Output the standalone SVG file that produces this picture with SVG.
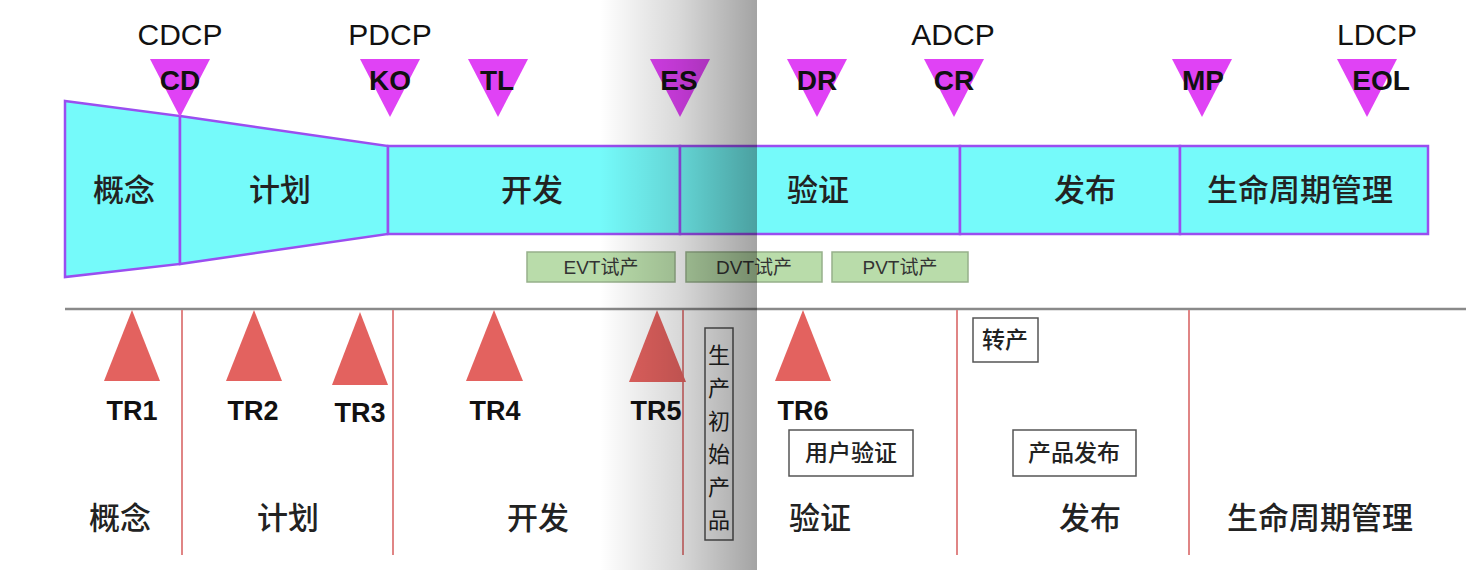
<svg xmlns="http://www.w3.org/2000/svg" width="1480" height="570" viewBox="0 0 1480 570">
<style>
.lat{font-family:"Liberation Sans",Arial,sans-serif;fill:#111}
.cjk{font-family:"Noto Sans CJK SC","Noto Sans",sans-serif;fill:#222}
.dcp{font-size:30px;text-anchor:middle}
.ms{font-size:28px;font-weight:bold;text-anchor:middle}
.tr{font-size:27px;font-weight:bold;text-anchor:middle}
.ph{font-size:31px;font-weight:500;text-anchor:middle}
.seg{fill:#75fafa;stroke:#9a4ef0;stroke-width:2.5}
.mt{fill:#e042f5}
.rt{fill:#e3625f}
.gb{fill:#b9dcaa;stroke:#96b08a;stroke-width:1.5}
.gt{font-size:19px;text-anchor:middle;fill:#333}
.wb{fill:#fff;stroke:#555;stroke-width:1.5}
.bt{font-size:23px;font-weight:500;text-anchor:middle}
.rl{stroke:#e08585;stroke-width:2}
</style>
<defs>
<linearGradient id="shade" x1="0" y1="0" x2="1" y2="0">
<stop offset="0" stop-color="#000" stop-opacity="0"/>
<stop offset="0.5" stop-color="#000" stop-opacity="0.15"/>
<stop offset="1" stop-color="#000" stop-opacity="0.36"/>
</linearGradient>
</defs>
<rect width="1480" height="570" fill="#fff"/>

<g id="connectors">
<line x1="65" y1="309" x2="1466" y2="309" stroke="#8a8a8a" stroke-width="2.5"/>
<line class="rl" x1="182" y1="310" x2="182" y2="555"/>
<line class="rl" x1="393" y1="310" x2="393" y2="555"/>
<line class="rl" x1="683" y1="310" x2="683" y2="555"/>
<line class="rl" x1="957" y1="310" x2="957" y2="555"/>
<line class="rl" x1="1189" y1="310" x2="1189" y2="555"/>
</g>

<g id="phase-bar">
<g id="bar-concept"><polygon class="seg" points="65,101 180,116 180,264 65,277"/><text class="cjk ph" x="124" y="201">概念</text></g>
<g id="bar-plan"><polygon class="seg" points="180,116 388,146 388,234 180,264"/><text class="cjk ph" x="280" y="201">计划</text></g>
<g id="bar-dev"><rect class="seg" x="388" y="146" width="292" height="88"/><text class="cjk ph" x="532" y="201">开发</text></g>
<g id="bar-verify"><rect class="seg" x="680" y="146" width="280" height="88"/><text class="cjk ph" x="818" y="201">验证</text></g>
<g id="bar-release"><rect class="seg" x="960" y="146" width="220" height="88"/><text class="cjk ph" x="1085" y="201">发布</text></g>
<g id="bar-lcm"><rect class="seg" x="1180" y="146" width="248" height="88"/><text class="cjk ph" x="1300" y="201">生命周期管理</text></g>
</g>

<g id="dcp-labels">
<text class="lat dcp" x="180" y="45">CDCP</text>
<text class="lat dcp" x="390" y="45">PDCP</text>
<text class="lat dcp" x="953" y="45">ADCP</text>
<text class="lat dcp" x="1377" y="45">LDCP</text>
</g>

<g id="ms-CD"><polygon class="mt" points="150,59 210,59 180,117"/><text class="lat ms" x="180" y="90">CD</text></g>
<g id="ms-KO"><polygon class="mt" points="360,59 420,59 390,117"/><text class="lat ms" x="390" y="90">KO</text></g>
<g id="ms-TL"><polygon class="mt" points="468,59 528,59 498,117"/><text class="lat ms" x="497" y="90">TL</text></g>
<g id="ms-ES"><polygon class="mt" points="650,59 710,59 680,117"/><text class="lat ms" x="679" y="90">ES</text></g>
<g id="ms-DR"><polygon class="mt" points="787,59 847,59 817,117"/><text class="lat ms" x="817" y="90">DR</text></g>
<g id="ms-CR"><polygon class="mt" points="924,59 984,59 954,117"/><text class="lat ms" x="954" y="90">CR</text></g>
<g id="ms-MP"><polygon class="mt" points="1172,59 1232,59 1202,117"/><text class="lat ms" x="1203" y="90">MP</text></g>
<g id="ms-EOL"><polygon class="mt" points="1337,59 1397,59 1367,117"/><text class="lat ms" x="1381" y="90">EOL</text></g>

<g id="evt"><rect class="gb" x="527" y="252" width="148" height="30"/><text class="lat gt" x="601" y="274">EVT<tspan class="cjk" style="fill:#333">试产</tspan></text></g>
<g id="dvt"><rect class="gb" x="686" y="252" width="136" height="30"/><text class="lat gt" x="754" y="274">DVT<tspan class="cjk" style="fill:#333">试产</tspan></text></g>
<g id="pvt"><rect class="gb" x="832" y="252" width="136" height="30"/><text class="lat gt" x="900" y="274">PVT<tspan class="cjk" style="fill:#333">试产</tspan></text></g>

<g id="tr1"><polygon class="rt" points="132,310 160,381 104,381"/><text class="lat tr" x="132" y="420">TR1</text></g>
<g id="tr2"><polygon class="rt" points="254,310 282,381 226,381"/><text class="lat tr" x="253" y="420">TR2</text></g>
<g id="tr3"><polygon class="rt" points="360,312 388,385 332,385"/><text class="lat tr" x="360" y="422">TR3</text></g>
<g id="tr4"><polygon class="rt" points="494,310 523,381 466,381"/><text class="lat tr" x="495" y="420">TR4</text></g>
<g id="tr5"><polygon class="rt" points="657,310 686,382 629,382"/><text class="lat tr" x="656" y="420">TR5</text></g>
<g id="tr6"><polygon class="rt" points="803,310 831,381 775,381"/><text class="lat tr" x="803" y="420">TR6</text></g>

<g id="initial-product">
<rect class="wb" x="705" y="328" width="28" height="212"/>
<text class="cjk" font-size="22" text-anchor="middle" x="719">
<tspan x="719" y="363">生</tspan><tspan x="719" y="396">产</tspan><tspan x="719" y="429">初</tspan><tspan x="719" y="462">始</tspan><tspan x="719" y="495">产</tspan><tspan x="719" y="528">品</tspan>
</text>
</g>
<g id="transfer"><rect class="wb" x="973" y="318" width="65" height="44"/><text class="cjk bt" x="1005" y="348">转产</text></g>
<g id="user-verify"><rect class="wb" x="789" y="430" width="124" height="46"/><text class="cjk bt" x="851" y="461">用户验证</text></g>
<g id="product-release"><rect class="wb" x="1013" y="430" width="123" height="46"/><text class="cjk bt" x="1074" y="461">产品发布</text></g>

<g id="bottom-labels">
<text class="cjk ph" x="120" y="529">概念</text>
<text class="cjk ph" x="288" y="529">计划</text>
<text class="cjk ph" x="538" y="529">开发</text>
<text class="cjk ph" x="820" y="529">验证</text>
<text class="cjk ph" x="1090" y="529">发布</text>
<text class="cjk ph" x="1320" y="529">生命周期管理</text>
</g>

<rect id="shading" x="600" y="0" width="157" height="570" fill="url(#shade)"/>
</svg>
